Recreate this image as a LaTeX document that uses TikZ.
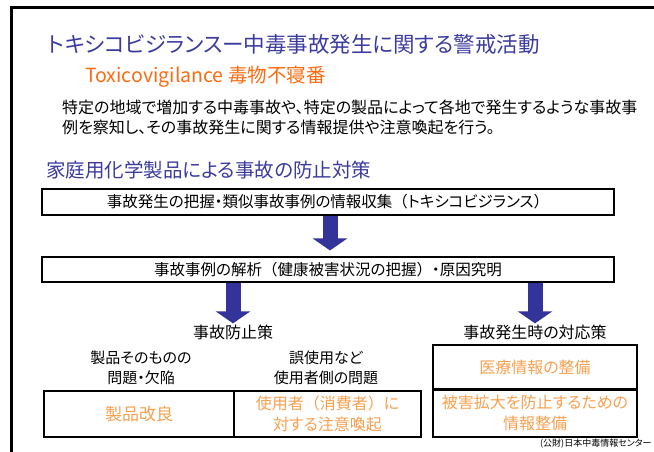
\documentclass[tikz,border=0pt]{standalone}
\usepackage{fontspec}
\setmainfont{Noto Sans CJK JP}[RawFeature=+palt]
\newfontfamily\fwfont{Noto Sans CJK JP}
\newcommand{\fwp}[1]{{\fwfont #1}}
\usetikzlibrary{arrows.meta}
\definecolor{tblue}{HTML}{3B3B9E}
\definecolor{aorange}{HTML}{FF6A10}
\definecolor{lorange}{HTML}{F7A050}
\definecolor{ablue}{HTML}{333399}
\begin{document}
\begin{tikzpicture}[x=1pt,y=-1pt,
  txt/.style={inner sep=0pt},
  boxw/.style={draw=black, line width=1.1pt, inner sep=0pt, align=center},
  bigarrow/.style={draw=ablue, line width=15pt, -{Triangle[width=34pt,length=12pt]}, ablue}
]
\useasboundingbox (0,0) rectangle (654,452);
% frame
\coordinate (fbl) at (11,452);
\coordinate (ftl) at (11,8);
\coordinate (ftr) at (654,8);
\draw[line width=3pt] (fbl) -- (ftl) -- (ftr);

\node[txt, anchor=west, text=tblue, font=\fontsize{21.5}{26}\selectfont] (title) at (48,44) {トキシコビジランスー中毒事故発生に関する警戒活動};
\node[txt, anchor=west, text=aorange, font=\fontsize{19.5}{23}\selectfont] (sub) at (85,77) {Toxicovigilance 毒物不寝番};
\node[txt, anchor=west, font=\fontsize{16}{19}\selectfont] (body1) at (62,107) {特定の地域で増加する中毒事故や、特定の製品によって各地で発生するような事故事};
\node[txt, anchor=west, font=\fontsize{16}{19}\selectfont] (body2) at (62,127) {例を察知し、その事故発生に関する情報提供や注意喚起を行う。};
\node[txt, anchor=west, text=tblue, font=\fontsize{19.5}{23}\selectfont] (sec) at (46,170) {家庭用化学製品による事故の防止対策};

\node[boxw, minimum width=572pt, minimum height=26pt, font=\fontsize{15.5}{19}\selectfont] (box1) at (328,202) {事故発生の把握・類似事故事例の情報収集\fwp{（}トキシコビジランス\fwp{）}};
\node[boxw, minimum width=572pt, minimum height=25pt, font=\fontsize{15.5}{19}\selectfont] (box2) at (328,269.5) {事故事例の解析\fwp{（}健康被害状況の把握\fwp{）}・原因究明};

\node[txt, font=\fontsize{16}{20}\selectfont] (h1) at (233,332) {事故防止策};
\node[txt, font=\fontsize{16}{20}\selectfont] (h2) at (535,332) {事故発生時の対応策};

\draw[bigarrow, shorten >=6pt] ([xshift=2pt]box1.south) -- ([xshift=2pt]box1.south |- box2.north);
\draw[bigarrow, shorten >=1pt] (box2.south -| h1.north) -- (h1.north);
\draw[bigarrow, shorten >=1pt] (box2.south -| h2.north) -- (h2.north);

\node[txt, align=center, font=\fontsize{15}{20}\selectfont] (q1) at (141,368) {製品そのものの\\問題・欠陥};
\node[txt, align=center, font=\fontsize{15}{20}\selectfont] (q2) at (326,368) {誤使用など\\使用者側の問題};

\node[boxw, minimum width=190pt, minimum height=46pt, text=lorange, font=\fontsize{17}{21}\selectfont] (t1) at (139,414) {製品改良};
\node[boxw, minimum width=187pt, minimum height=46pt, text=lorange, font=\fontsize{16}{21}\selectfont] (t2) at (327.5,414) {使用者\fwp{（}消費者\fwp{）}に\\対する注意喚起};

\node[boxw, minimum width=204pt, minimum height=44pt, text=lorange, font=\fontsize{16}{21}\selectfont] (r1) at (535,367) {医療情報の整備};
\node[boxw, minimum width=204pt, minimum height=48pt, text=lorange, font=\fontsize{16}{21}\selectfont] (r2) at (535,413) {被害拡大を防止するための\\情報整備};
\draw[line width=2.5pt] (r1.south west) -- (r1.south east);

\node[txt, anchor=west, font=\fontsize{9}{11}\selectfont] (foot) at (540,444) {(公財)日本中毒情報センター};
\end{tikzpicture}
\end{document}
